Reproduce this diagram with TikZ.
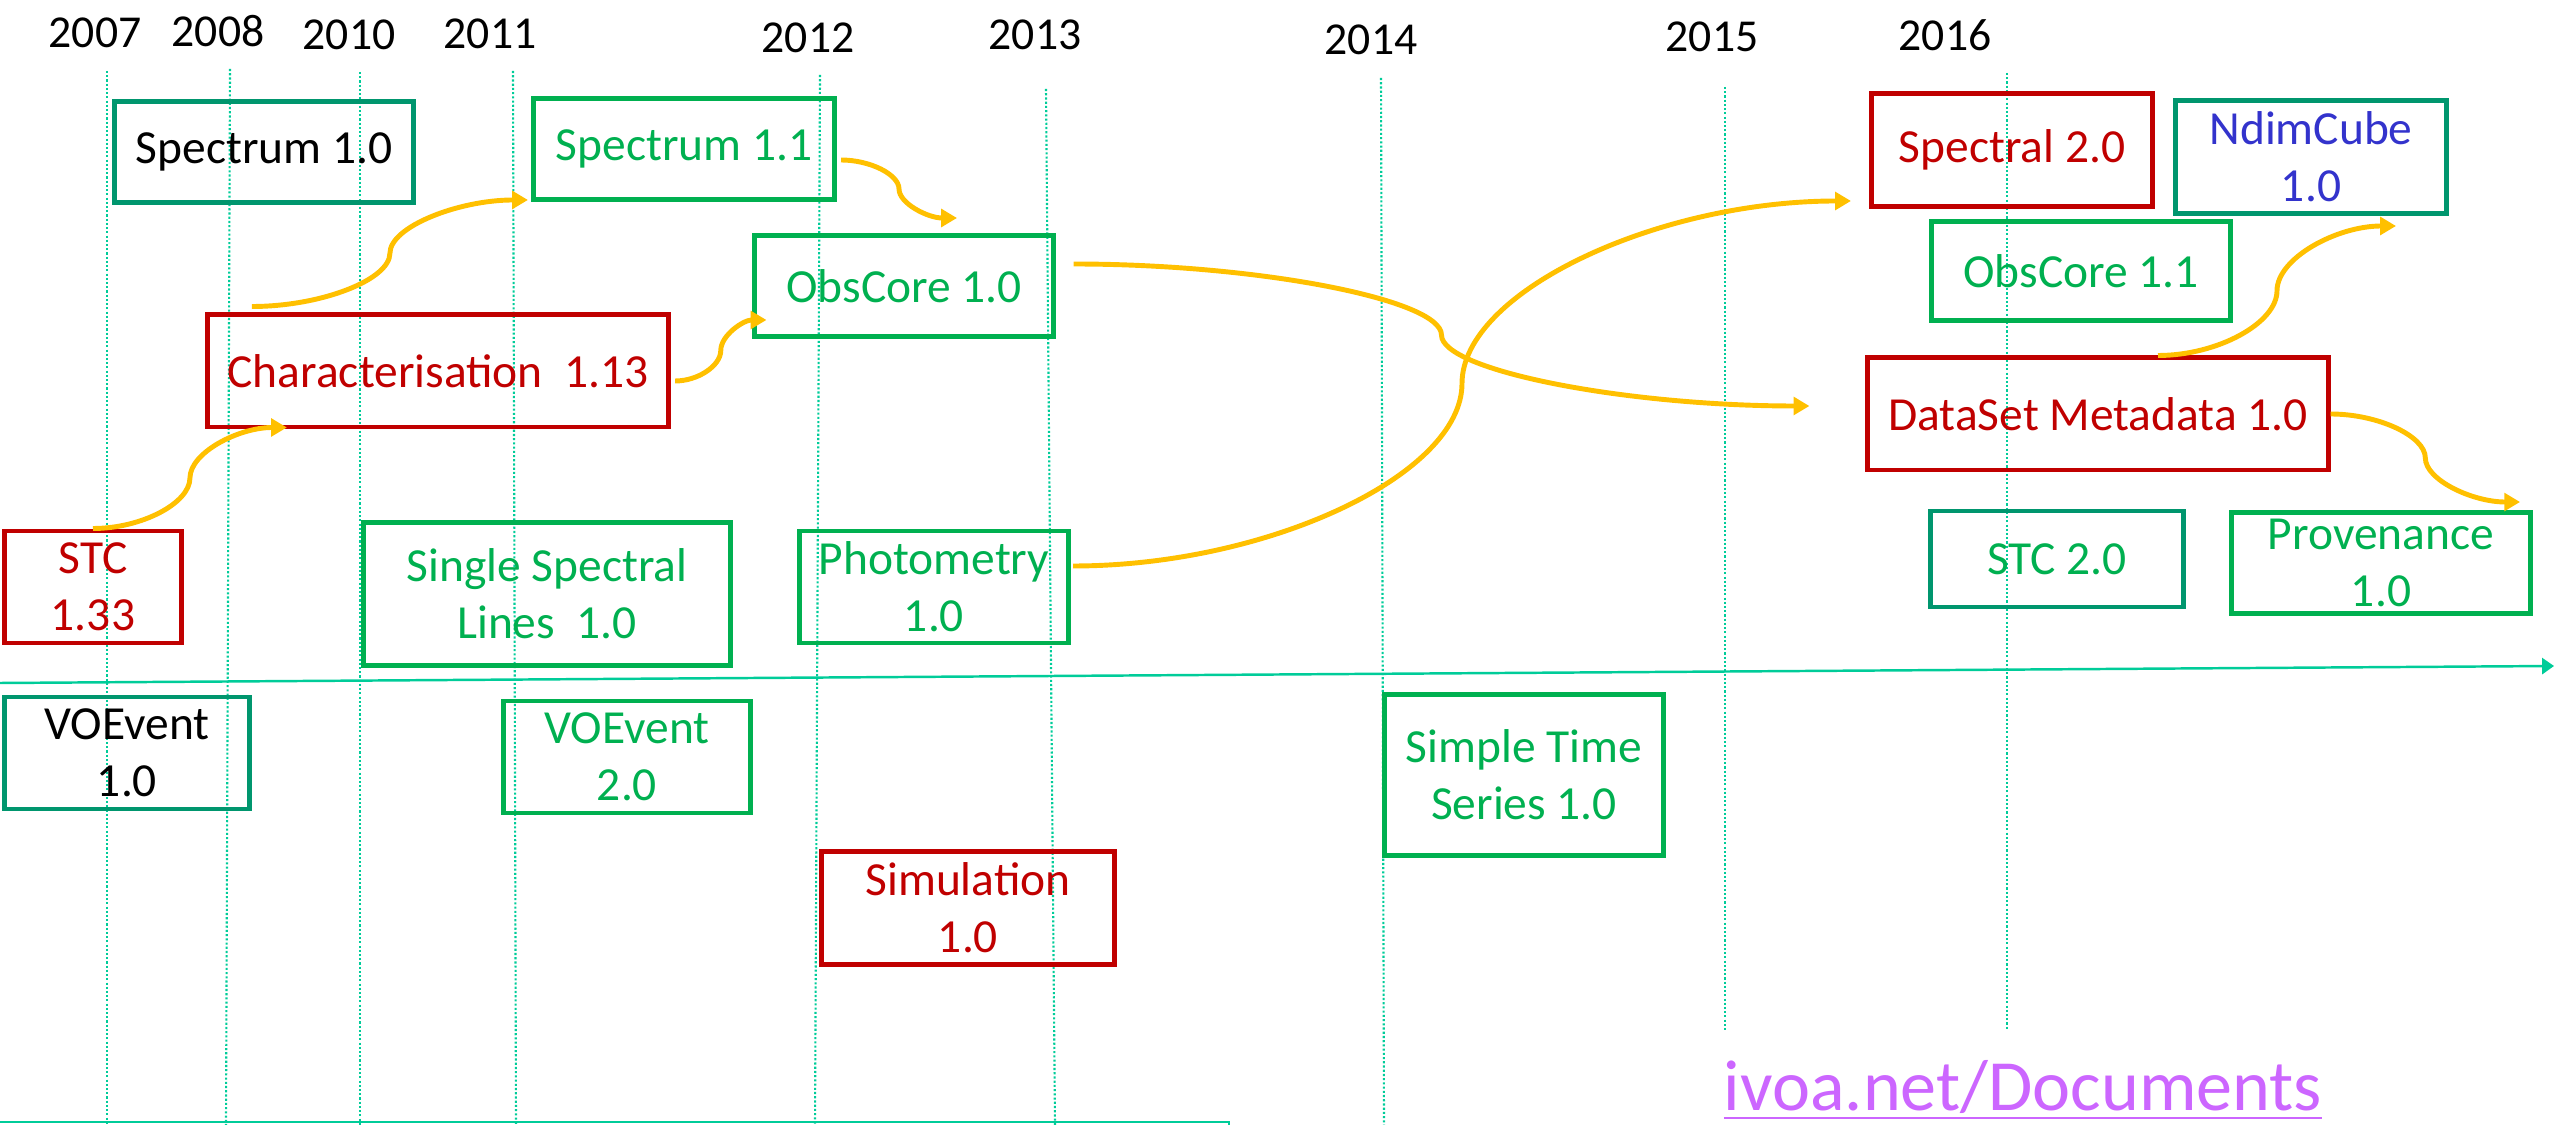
\documentclass[tikz,border=0pt]{standalone}
\usepackage{fontspec}
\setmainfont{Carlito}
\usetikzlibrary{calc,arrows.meta}

\definecolor{dmred}{RGB}{192,0,0}
\definecolor{dmgreen}{RGB}{0,176,80}
\definecolor{dmteal}{RGB}{0,150,110}
\definecolor{dmblue}{RGB}{51,51,204}
\definecolor{dmorange}{RGB}{255,192,0}
\definecolor{dmaxis}{RGB}{0,204,153}
\definecolor{dmlink}{RGB}{204,102,255}

\begin{document}
\begin{tikzpicture}[x=0.01cm, y=-0.01cm,
  every node/.style={inner sep=0pt},
  box/.style={draw, line width=1.4pt, align=center,
    font=\fontsize{13.5}{16.2}\selectfont},
  redbox/.style={box, draw=dmred, text=dmred},
  greenbox/.style={box, draw=dmgreen, text=dmgreen},
  tealbox/.style={box, draw=dmteal},
  year/.style={font=\fontsize{13}{15}\selectfont},
  yearline/.style={dmaxis, line width=0.6pt, dash pattern=on 0.6pt off 0.6pt},
  axisline/.style={dmaxis, line width=0.7pt},
  sconn/.style={dmorange, line width=1.4pt,
    -{Triangle[length=4.5pt,width=5pt]},
    to path={let \p1=(\tikztostart), \p2=(\tikztotarget) in
      .. controls ({0.75*\x1+0.25*\x2},\y1)
              and ({0.5*\x1+0.5*\x2},{0.75*\y1+0.25*\y2})
      .. ({0.5*\x1+0.5*\x2},{0.5*\y1+0.5*\y2})
      .. controls ({0.5*\x1+0.5*\x2},{0.25*\y1+0.75*\y2})
              and ({0.25*\x1+0.75*\x2},\y2)
      .. (\tikztotarget)}}]

  \useasboundingbox (0,0) rectangle (2554,1125);

  % years
  \node[year] (y2007) at (95,33) {2007};
  \node[year] (y2008) at (218,31) {2008};
  \node[year] (y2010) at (349,35) {2010};
  \node[year] (y2011) at (490,34) {2011};
  \node[year] (y2012) at (808,38) {2012};
  \node[year] (y2013) at (1035,35) {2013};
  \node[year] (y2014) at (1371,40) {2014};
  \node[year] (y2015) at (1712,37) {2015};
  \node[year] (y2016) at (1945,35) {2016};

  \draw[yearline] (107,71) -- (107,1125);
  \draw[yearline] (230,69) -- (226,1125);
  \draw[yearline] (360,72) -- (360,1125);
  \draw[yearline] (513,71) -- (516,1125);
  \draw[yearline] (820,75) -- (815,1125);
  \draw[yearline] (1046,89) -- (1055,1125);
  \draw[yearline] (1381,78) -- (1384,1125);
  \draw[yearline] (1725,87) -- (1725,1030);
  \draw[yearline] (2007,73) -- (2007,1030);

  % time axis
  \draw[axisline, -{Triangle[length=3.4pt,width=4.6pt]}] (0,683) -- (2554,666);
  \draw[axisline] (0,1122) -- (1229,1122) -- (1229,1125);

  % models
  \node[tealbox, minimum width=2.98cm, minimum height=1.01cm]
    (spec10) at (264,152) {Spectrum 1.0};
  \node[greenbox, minimum width=3.01cm, minimum height=1.01cm]
    (spec11) at (684,149) {Spectrum 1.1};
  \node[redbox, minimum width=4.61cm, minimum height=1.12cm]
    (charact) at (438,371) {Characterisation\ \ 1.13};
  \node[greenbox, minimum width=2.98cm, minimum height=1.01cm]
    (obscore10) at (904,286) {ObsCore 1.0};
  \node[redbox, minimum width=1.76cm, minimum height=1.12cm]
    (stc133) at (93,587) {STC\\1.33};
  \node[greenbox, minimum width=3.66cm, minimum height=1.43cm]
    (ssl) at (547,594) {Single Spectral\\Lines\ \ 1.0};
  \node[greenbox, minimum width=2.69cm, minimum height=1.12cm]
    (photo) at (934,587) {Photometry\\1.0};
  \node[tealbox, minimum width=2.45cm, minimum height=1.12cm]
    (voevent10) at (127,753) {VOEvent\\1.0};
  \node[greenbox, minimum width=2.46cm, minimum height=1.12cm]
    (voevent20) at (627,757) {VOEvent\\2.0};
  \node[redbox, minimum width=2.92cm, minimum height=1.13cm]
    (simu) at (968,908) {Simulation\\1.0};
  \node[greenbox, minimum width=2.79cm, minimum height=1.60cm]
    (sts) at (1524,775) {Simple Time\\Series 1.0};
  \node[redbox, minimum width=2.81cm, minimum height=1.13cm]
    (spectral20) at (2012,150) {Spectral 2.0};
  \node[tealbox, text=dmblue, minimum width=2.71cm, minimum height=1.13cm]
    (ndimcube) at (2311,157) {NdimCube\\1.0};
  \node[greenbox, minimum width=2.98cm, minimum height=0.99cm]
    (obscore11) at (2081,271) {ObsCore 1.1};
  \node[redbox, minimum width=4.60cm, minimum height=1.12cm]
    (dsm) at (2098,414) {DataSet Metadata 1.0};
  \node[tealbox, text=dmgreen, minimum width=2.53cm, minimum height=0.96cm]
    (stc20) at (2057,559) {STC 2.0};
  \node[greenbox, minimum width=2.99cm, minimum height=1.01cm]
    (prov) at (2381,563) {Provenance\\1.0};

  % links between versions
  \draw[sconn] (stc133.north) to ($(charact.south west)+(82,-2)$);
  \draw[sconn] ($(charact.north west)+(47,-6)$) to ($(spec11.south west)+(-3,-2)$);
  \draw[sconn] ($(charact.east)+(4,10)$) to ($(obscore10.south west)+(14,-19)$);
  \draw[sconn] ($(spec11.east)+(4,11)$) to ($(obscore10.north)+(53,-15)$);
  \draw[sconn] ($(obscore10.east)+(18,-22)$) to ($(dsm.west)+(-56,-8)$);
  \draw[sconn] ($(photo.east)+(2,-21)$) to ($(spectral20.south west)+(-18,-8)$);
  \draw[sconn] ($(dsm.north)+(60,0)$) to ($(ndimcube.south)+(85,10)$);
  \draw[sconn] (dsm.east) to ($(prov.north east)+(-13,-8)$);

  \node[text=dmlink, anchor=base, font=\fontsize{20.5}{24}\selectfont]
    (docs) at (2023,1110) {\underline{ivoa.net/Documents}};

\end{tikzpicture}
\end{document}
